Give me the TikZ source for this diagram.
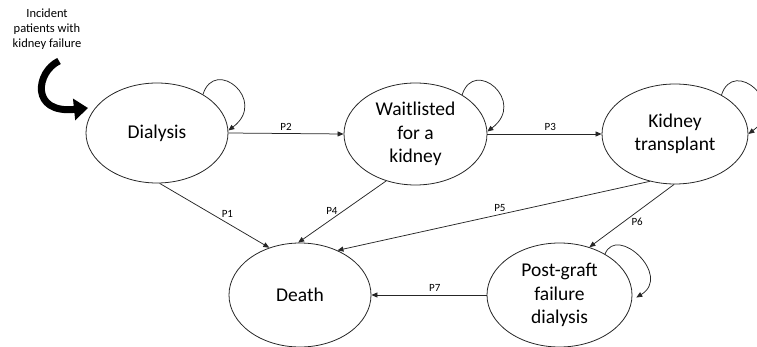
\documentclass[tikz,border=0pt]{standalone}
\usepackage{fontspec}
\setmainfont{Carlito}
\usetikzlibrary{arrows.meta,shapes.geometric}
\begin{document}
\begin{tikzpicture}[x=1pt,y=-1pt,
  state/.style={draw=black!85,line width=0.8pt,ellipse,inner sep=0pt,align=center,
     font=\fontsize{19.5}{23.5}\selectfont},
  conn/.style={draw=black!85,line width=0.75pt,-{Triangle[length=6pt,width=5pt]}},
  plab/.style={font=\fontsize{11}{13}\selectfont,inner sep=1pt},
  selfloop/.style={conn}]
\useasboundingbox (0,0) rectangle (757,347);
\node[state,minimum width=142pt,minimum height=100pt] (dia) at (157,133) {Dialysis};
\node[state,minimum width=143pt,minimum height=102pt] (wait) at (415.5,134) {Waitlisted\\for a\\kidney};
\node[state,minimum width=146pt,minimum height=100pt] (kt) at (675,134) {Kidney\\transplant};
\node[state,minimum width=142pt,minimum height=104pt] (death) at (300,295) {Death};
\node[state,minimum width=145pt,minimum height=104pt] (pg) at (559.5,295) {Post-graft\\failure\\dialysis};
\node[font=\fontsize{12.5}{14.7}\selectfont,align=center] (inctext) at (47,29) {Incident\\patients with\\kidney failure};
\coordinate (inc) at (59,61);
\draw[line width=7pt,-{Triangle[length=14pt,width=21pt]}] (inc) .. controls (36,72) and (30,114) .. (88,108);
% transitions
\draw[conn] (dia.east) -- node[plab,above=2pt] {P2} (wait.west);
\draw[conn] (wait.east) -- node[plab,pos=0.55,above=2pt] {P3} (kt.west);
\draw[conn] (dia.-87) -- node[plab,pos=0.6,above=3pt,xshift=2pt] {P1} (death.123);
\draw[conn] (wait.-122) -- node[plab,pos=0.48,left=5pt] {P4} (death.92);
\draw[conn] (kt.-118) -- node[plab,pos=0.48,above=2pt] {P5} (death.50);
\draw[conn] (kt.-91) -- node[plab,pos=0.59,right=6pt] {P6} (pg.58);
\draw[conn] (pg.west) -- node[plab,pos=0.45,above=2pt] {P7} (death.east);
% self loops
\draw[selfloop] (dia.40) .. controls +(12,-38) and +(40,-30) .. (dia.2);
\draw[selfloop] (wait.40) .. controls +(12,-38) and +(40,-30) .. (wait.2);
\draw[selfloop] (kt.40) .. controls +(12,-38) and +(40,-30) .. (kt.0);
\draw[selfloop] (pg.42) .. controls +(12,-30) and +(36,-22) .. ([xshift=4pt]pg.-2);
\end{tikzpicture}
\end{document}
